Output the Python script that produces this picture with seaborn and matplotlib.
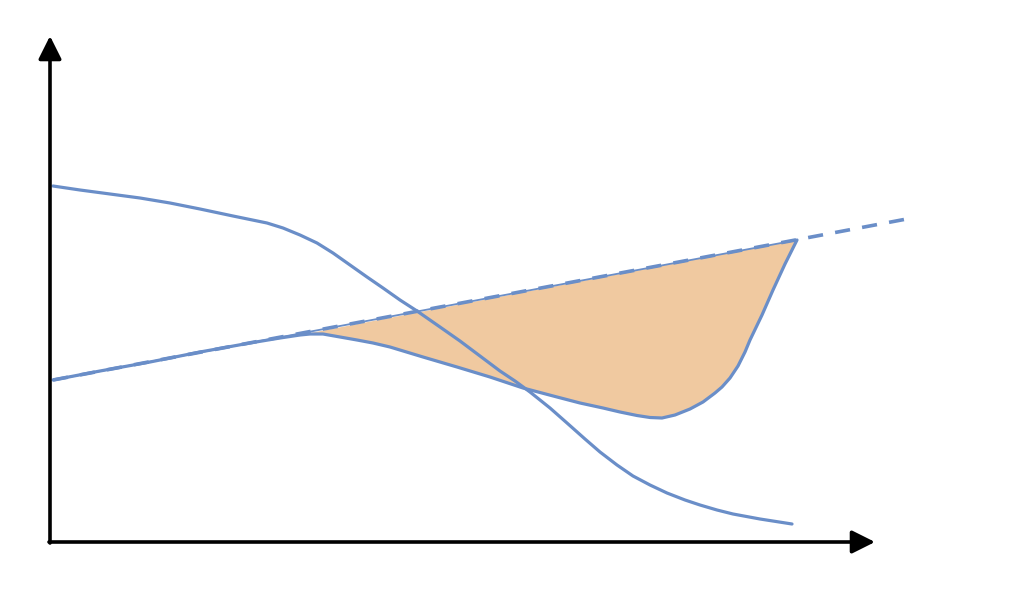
import numpy as np
import pandas as pd
import matplotlib
matplotlib.use("Agg")
import matplotlib.pyplot as plt
import seaborn as sns

# ===========================
# Data (origin at the axes corner)
# ===========================

# falling curve
upper_x = [3, 30, 60, 90, 120, 150, 183, 217, 233, 250, 267, 283, 300, 317, 333,
           350, 367, 390, 410, 430, 450, 465, 480, 500, 517, 535, 550, 567, 583,
           600, 617, 635, 650, 667, 683, 710, 742]
upper_y = [356, 352, 348, 344, 339, 333, 326, 319, 314, 307, 299, 289, 277, 265, 254,
           242, 231, 215, 201, 186, 171, 161, 150, 134, 119, 103, 90, 77, 66,
           57, 49, 42, 37, 32, 28, 23, 18]

# curve that leaves the tangent line, dips and climbs back to it
lower_x = [3, 50, 100, 150, 200, 230, 250, 260, 273, 290, 307, 323, 340, 373, 407,
           440, 473, 507, 530, 553, 570, 587, 600, 612, 625, 640, 653, 665, 672,
           680, 688, 695, 700, 712, 723, 735, 747]
lower_y = [162, 171, 180, 190, 199, 204, 207, 208, 208, 205, 202, 199, 195, 185, 175,
           165, 154, 145, 139, 134, 130, 126.5, 124.5, 124, 127, 133, 140, 149, 155,
           164, 176, 190, 202, 227, 252, 278, 302]

# straight dashed tangent line
line_x = [3, 862]
line_y = [162, 324]

# solid edge of the shaded area along the line
edge_x = [3, 747]
edge_y = [162, 302]

fill_start = 6  # index in lower curve where it leaves the line

axis_len_x = 825
axis_len_y = 506

blue = "#6a8ec8"
peach = "#f0c9a0"

# ===========================
# Plot
# ===========================

sns.set_style("white")

fig = plt.figure(figsize=(10.24, 6.10), dpi=100)
ax = fig.add_axes([0, 0, 1, 1])

df_lower = pd.DataFrame({"x": lower_x, "y": lower_y})
seg = df_lower.iloc[fill_start:]
ax.fill(seg["x"], seg["y"], color=peach, lw=0, zorder=1)

sns.lineplot(x=line_x, y=line_y, ax=ax, color=blue, lw=2.6,
             linestyle=(0, (4.2, 3.4)), zorder=2)
sns.lineplot(x=edge_x, y=edge_y, ax=ax, color=blue, lw=1.3, zorder=3)
sns.lineplot(data=df_lower, x="x", y="y", ax=ax, color=blue, lw=2.3,
             sort=False, estimator=None, zorder=4,
             solid_joinstyle="round", solid_capstyle="round")
sns.lineplot(x=upper_x, y=upper_y, ax=ax, color=blue, lw=2.3,
             sort=False, estimator=None, zorder=4,
             solid_joinstyle="round", solid_capstyle="round")

# axis arrows
arrow = dict(arrowstyle="-|>,head_length=1.0,head_width=0.5", color="black",
             lw=2.6, shrinkA=0, shrinkB=0, mutation_scale=14)
ax.annotate("", xy=(axis_len_x, 0), xytext=(-1, 0), arrowprops=arrow, zorder=5)
ax.annotate("", xy=(0, axis_len_y), xytext=(0, -1), arrowprops=arrow, zorder=5)

ax.set_xlim(-50, 974)
ax.set_ylim(-68, 542)
ax.axis("off")

plt.savefig("out.png", dpi=100)
plt.close()
